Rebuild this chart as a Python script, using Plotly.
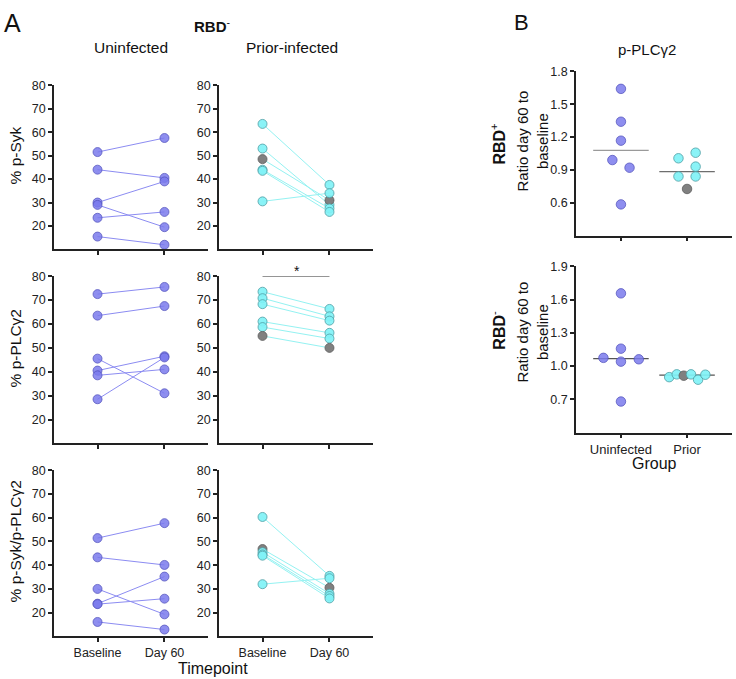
import plotly.graph_objects as go
import numpy as np

W, H = 736, 679

# ---------------- data ----------------
timepoints = ["Baseline", "Day 60"]
groups = ["Uninfected", "Prior"]

syk_unf_base = [51.5, 44.0, 30.0, 29.0, 23.5, 15.5]
syk_unf_d60 = [57.5, 40.5, 39.0, 19.5, 26.0, 12.0]
syk_pri_base = [63.5, 53.0, 48.5, 44.0, 43.5, 30.5]
syk_pri_d60 = [37.5, 29.0, 31.0, 27.5, 26.0, 34.0]

plc_unf_base = [72.5, 63.5, 45.5, 40.5, 38.5, 28.5]
plc_unf_d60 = [75.5, 67.5, 31.0, 46.5, 41.0, 46.0]
plc_pri_base = [73.5, 70.8, 68.3, 61.0, 58.7, 55.0]
plc_pri_d60 = [66.3, 63.2, 61.4, 56.3, 53.9, 50.0]

ratio_unf_base = [51.4, 43.3, 30.0, 23.8, 23.6, 16.1]
ratio_unf_d60 = [57.7, 40.1, 19.3, 35.2, 25.9, 12.9]
ratio_pri_base = [60.3, 46.8, 45.5, 44.5, 44.0, 32.0]
ratio_pri_d60 = [35.5, 30.5, 28.0, 27.0, 26.0, 34.5]

# which prior-infected subject is shown in grey (per panel)
grey_syk, grey_plc, grey_ratio = 2, 5, 1

rbdp_unf = [1.64, 1.34, 1.167, 0.99, 0.92, 0.585]
rbdp_pri = [1.006, 1.057, 0.93, 0.84, 0.84, 0.726]
rbdn_unf = [1.656, 1.157, 1.074, 1.04, 1.061, 0.68]
rbdn_pri = [0.90, 0.925, 0.913, 0.925, 0.877, 0.922]
grey_bp, grey_bn = 5, 2

# horizontal scatter (jitter) of points within a group, in category units
jit_bp_unf = [0, 0, 0, -0.13, 0.13, 0]
jit_bp_pri = [-0.13, 0.13, 0.13, -0.13, 0.13, 0]
jit_bn_unf = [0, 0, -0.265, 0, 0.27, 0]
jit_bn_pri = [-0.27, -0.156, -0.05, 0.06, 0.167, 0.277]

# ---------------- styles ----------------
FONT = "Liberation Sans, Arial, Helvetica, sans-serif"
PUR_FILL = "rgba(122,122,236,0.85)"
PUR_EDGE = "rgba(80,80,185,0.9)"
PUR_LINE = "#8c8cf2"
CY_FILL = "rgba(128,242,246,0.92)"
CY_EDGE = "#4f9da3"
CY_LINE = "#94f2f2"
GR_FILL = "#808080"
GR_EDGE = "#5c5c5c"
AX = "#222222"


def px_x(p):
    return p / W


def px_y(p):
    return 1 - p / H


fig = go.Figure()


def add_pairs(ax, base, d60, prior, grey_idx=None):
    for i, (b, d) in enumerate(zip(base, d60)):
        if prior:
            lc = CY_LINE
            if i == grey_idx:
                fc, ec = GR_FILL, GR_EDGE
            else:
                fc, ec = CY_FILL, CY_EDGE
        else:
            lc, fc, ec = PUR_LINE, PUR_FILL, PUR_EDGE
        fig.add_trace(go.Scatter(
            x=[0, 1], y=[b, d], mode="lines+markers",
            line=dict(color=lc, width=1),
            marker=dict(size=9, color=fc, line=dict(color=ec, width=0.8)),
            xaxis="x" + ax, yaxis="y" + ax, showlegend=False, hoverinfo="y"))


add_pairs("", syk_unf_base, syk_unf_d60, False)
add_pairs("2", syk_pri_base, syk_pri_d60, True, grey_syk)
add_pairs("3", plc_unf_base, plc_unf_d60, False)
add_pairs("4", plc_pri_base, plc_pri_d60, True, grey_plc)
add_pairs("5", ratio_unf_base, ratio_unf_d60, False)
add_pairs("6", ratio_pri_base, ratio_pri_d60, True, grey_ratio)


def add_group(ax, vals, jit, pos, prior, grey_idx=None):
    xs = [pos + j for j in jit]
    if prior:
        fills = [GR_FILL if i == grey_idx else CY_FILL for i in range(len(vals))]
        edges = [GR_EDGE if i == grey_idx else CY_EDGE for i in range(len(vals))]
    else:
        fills = [PUR_FILL] * len(vals)
        edges = [PUR_EDGE] * len(vals)
    fig.add_trace(go.Scatter(
        x=xs, y=vals, mode="markers",
        marker=dict(size=9.5, color=fills, line=dict(color=edges, width=0.8)),
        xaxis="x" + ax, yaxis="y" + ax, showlegend=False, hoverinfo="y"))


shapes = []


def median_line(ax, vals, pos, color):
    m = float(np.median(vals))
    shapes.append(dict(type="line", xref="x" + ax, yref="y" + ax,
                       x0=pos - 0.42, x1=pos + 0.42, y0=m, y1=m,
                       line=dict(color=color, width=1.3), layer="below"))


median_line("7", rbdp_unf, 0, "#9a9a9a")
median_line("7", rbdp_pri, 1, "#6e6e6e")
median_line("8", rbdn_unf, 0, "#555555")
median_line("8", rbdn_pri, 1, "#555555")

add_group("7", rbdp_unf, jit_bp_unf, 0, False)
add_group("7", rbdp_pri, jit_bp_pri, 1, True, grey_bp)
add_group("8", rbdn_unf, jit_bn_unf, 0, False)
add_group("8", rbdn_pri, jit_bn_pri, 1, True, grey_bn)

# significance bar over prior-infected p-PLCg2
shapes.append(dict(type="line", xref="x4", yref="y4", x0=0, x1=1, y0=80, y1=80,
                   line=dict(color="#333333", width=1)))

common_axis = dict(showline=True, linecolor=AX, linewidth=1.5, ticks="outside",
                   ticklen=4, tickwidth=1.5, tickcolor=AX, showgrid=False,
                   zeroline=False, tickfont=dict(family=FONT, size=12.5, color=AX))

layout = dict(width=W, height=H, margin=dict(l=0, r=0, t=0, b=0),
              plot_bgcolor="white", paper_bgcolor="white",
              font=dict(family=FONT, color="#111111"), showlegend=False,
              shapes=shapes)

colsA = [(54, 208), (219, 373)]
rowsA = [(79, 245), (272, 441), (468, 636)]
k = 0
for r, (yt, yb) in enumerate(rowsA):
    for c, (xl, xr) in enumerate(colsA):
        k += 1
        sx = "" if k == 1 else str(k)
        layout["xaxis" + sx] = dict(common_axis, domain=[px_x(xl), px_x(xr)],
                                    range=[-0.65, 1.65], tickvals=[0, 1],
                                    ticktext=timepoints,
                                    showticklabels=(r == 2),
                                    anchor="y" + sx)
        layout["yaxis" + sx] = dict(common_axis, domain=[px_y(yb), px_y(yt)],
                                    range=[10, 80], tickvals=list(range(20, 81, 10)),
                                    anchor="x" + sx)

# panel B
layout["xaxis7"] = dict(common_axis, domain=[px_x(576), px_x(732)], range=[-0.68, 1.68],
                        tickvals=[0, 1], ticktext=groups, showticklabels=False, anchor="y7")
layout["yaxis7"] = dict(common_axis, domain=[px_y(231), px_y(65)], range=[0.3, 1.8],
                        tickvals=[0.6, 0.9, 1.2, 1.5, 1.8], tickformat=".1f", anchor="x7")
layout["xaxis8"] = dict(common_axis, domain=[px_x(576), px_x(732)], range=[-0.68, 1.68],
                        tickvals=[0, 1], ticktext=groups, anchor="y8",
                        tickfont=dict(family=FONT, size=13, color=AX))
layout["yaxis8"] = dict(common_axis, domain=[px_y(430), px_y(262)], range=[0.4, 1.9],
                        tickvals=[0.7, 1.0, 1.3, 1.6, 1.9], tickformat=".1f", anchor="x8")

fig.update_layout(**layout)


def note(text, x, y, size, angle=0, bold=False):
    fig.add_annotation(text=("<b>%s</b>" % text) if bold else text,
                       x=px_x(x), y=px_y(y), xref="paper", yref="paper",
                       showarrow=False, textangle=angle,
                       font=dict(family=FONT, size=size, color="#111111"),
                       xanchor="center", yanchor="middle")


note("A", 13, 16, 25)
note("B", 521, 16, 22)
note("<b>RBD</b><sup>-</sup>", 212, 19, 15)
note("Uninfected", 131, 41, 15.5)
note("Prior-infected", 292, 41, 15.5)
note("% p-Syk", 15, 150, 15.5, -90)
note("% p-PLCγ2", 15, 345, 15.5, -90)
note("% p-Syk/p-PLCγ2", 15, 540, 15.5, -90)
note("Timepoint", 213, 668, 16)
note("*", 297, 267, 14)
note("p-PLCγ2", 647, 43, 15)
note("<b>RBD</b><sup>+</sup>", 498, 138, 16, -90)
note("<b>RBD</b><sup>-</sup>", 498, 326, 16, -90)
note("Ratio day 60 to<br>baseline", 533, 136, 15, -90)
note("Ratio day 60 to<br>baseline", 533, 329, 15, -90)
note("Group", 654, 461, 16)

fig.write_html("out.html",
               config={"displayModeBar": False},
               post_script="document.body.style.margin='0px';"
                           "document.body.style.overflow='hidden';")
